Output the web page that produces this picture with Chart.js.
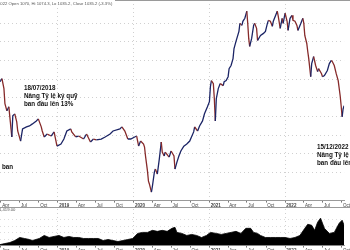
<!DOCTYPE html>
<html>
<head>
<meta charset="utf-8">
<script src="https://cdn.jsdelivr.net/npm/chart.js@4/dist/chart.umd.min.js"></script>
<style>
    html, body { margin: 0; padding: 0; background: #fff; overflow: hidden; }
    body { width: 350px; height: 250px; position: relative; }
    #priceChart { position: absolute; left: 0; top: 0; }
    #volumeChart { position: absolute; left: 0; top: 207px; }
</style>
</head>
<body>
<canvas id="priceChart" width="350" height="208"></canvas>
<canvas id="volumeChart" width="350" height="46"></canvas>
<script>
// thời gian tính theo năm thập phân (2019.5 = giữa năm 2019)
const priceTime = [
    2018.234, 2018.260, 2018.286, 2018.299, 2018.325, 2018.351, 2018.364, 2018.390, 2018.403, 2018.429,
    2018.455, 2018.468, 2018.506, 2018.532, 2018.584, 2018.623, 2018.662, 2018.714, 2018.740, 2018.779,
    2018.792, 2018.818, 2018.857, 2018.909, 2018.948, 2018.987, 2019.039, 2019.078, 2019.117, 2019.169,
    2019.182, 2019.234, 2019.273, 2019.338, 2019.377, 2019.429, 2019.468, 2019.506, 2019.571, 2019.623,
    2019.688, 2019.727, 2019.818, 2019.844, 2019.883, 2019.922, 2019.961, 2020.013, 2020.039, 2020.065,
    2020.091, 2020.130, 2020.143, 2020.156, 2020.182, 2020.195, 2020.208, 2020.234, 2020.247, 2020.273,
    2020.286, 2020.312, 2020.338, 2020.364, 2020.377, 2020.403, 2020.416, 2020.468, 2020.494, 2020.532,
    2020.545, 2020.571, 2020.597, 2020.623, 2020.662, 2020.701, 2020.740, 2020.792, 2020.805, 2020.844,
    2020.870, 2020.909, 2020.935, 2020.974, 2021.000, 2021.013, 2021.026, 2021.052, 2021.065, 2021.078,
    2021.091, 2021.117, 2021.143, 2021.182, 2021.195, 2021.221, 2021.247, 2021.260, 2021.286, 2021.312,
    2021.325, 2021.351, 2021.390, 2021.403, 2021.429, 2021.442, 2021.468, 2021.494, 2021.506, 2021.519,
    2021.532, 2021.558, 2021.584, 2021.597, 2021.623, 2021.636, 2021.675, 2021.714, 2021.740, 2021.766,
    2021.779, 2021.805, 2021.831, 2021.844, 2021.870, 2021.896, 2021.909, 2021.935, 2021.961, 2021.974,
    2022.000, 2022.026, 2022.039, 2022.065, 2022.091, 2022.104, 2022.130, 2022.156, 2022.169, 2022.208,
    2022.234, 2022.247, 2022.260, 2022.286, 2022.299, 2022.312, 2022.338, 2022.351, 2022.377, 2022.403,
    2022.429, 2022.442, 2022.481, 2022.494, 2022.519, 2022.558, 2022.584, 2022.610, 2022.623, 2022.649,
    2022.675, 2022.701, 2022.727, 2022.740, 2022.753, 2022.766, 2022.779
];
const priceClose = [
    1187, 1204, 1150, 1069, 1031, 1053, 999, 891, 1004, 1015,
    972, 923, 869, 934, 945, 950, 961, 977, 988, 945,
    923, 891, 907, 896, 918, 842, 853, 880, 923, 934,
    918, 891, 896, 880, 907, 864, 880, 875, 880, 891,
    907, 923, 934, 945, 923, 880, 880, 891, 896, 842,
    869, 853, 837, 789, 708, 654, 638, 595, 627, 702,
    719, 692, 772, 864, 810, 789, 810, 783, 816, 789,
    719, 756, 789, 816, 842, 853, 869, 918, 945, 923,
    950, 977, 1015, 1053, 1080, 1160, 1193, 1177, 1096, 977,
    1096, 1150, 1177, 1166, 1187, 1193, 1214, 1257, 1274, 1311,
    1365, 1403, 1457, 1500, 1489, 1511, 1527, 1565, 1500, 1419,
    1376, 1419, 1489, 1500, 1473, 1408, 1435, 1446, 1457, 1500,
    1516, 1511, 1484, 1511, 1538, 1565, 1538, 1473, 1527, 1500,
    1554, 1511, 1462, 1527, 1543, 1516, 1511, 1489, 1462, 1500,
    1527, 1500, 1435, 1392, 1349, 1311, 1214, 1284, 1322, 1274,
    1241, 1257, 1230, 1214, 1220, 1247, 1284, 1301, 1295, 1274,
    1230, 1193, 1112, 1058, 999, 1042, 1058
];

const volumeTime = [
    2018.234, 2018.299, 2018.364, 2018.429, 2018.494, 2018.558, 2018.623, 2018.662, 2018.753, 2018.818,
    2018.883, 2018.948, 2019.013, 2019.078, 2019.143, 2019.208, 2019.273, 2019.338, 2019.403, 2019.468,
    2019.532, 2019.597, 2019.662, 2019.727, 2019.792, 2019.857, 2019.922, 2019.987, 2020.052, 2020.117,
    2020.182, 2020.247, 2020.312, 2020.377, 2020.442, 2020.506, 2020.545, 2020.571, 2020.636, 2020.701,
    2020.766, 2020.831, 2020.896, 2020.961, 2021.013, 2021.091, 2021.156, 2021.221, 2021.286, 2021.351,
    2021.416, 2021.481, 2021.545, 2021.584, 2021.636, 2021.675, 2021.740, 2021.805, 2021.870, 2021.935,
    2022.000, 2022.065, 2022.130, 2022.195, 2022.260, 2022.299, 2022.351, 2022.390, 2022.429, 2022.468,
    2022.519, 2022.584, 2022.649, 2022.714, 2022.753, 2022.779
];
const volumeValue = [
    39, 79, 118, 197, 315, 276, 236, 197, 276, 394,
    315, 355, 394, 315, 355, 315, 315, 276, 276, 276,
    276, 197, 236, 197, 158, 197, 236, 276, 473, 512,
    512, 591, 552, 591, 552, 670, 709, 512, 473, 394,
    433, 394, 315, 394, 512, 473, 433, 473, 512, 552,
    473, 670, 670, 512, 473, 394, 315, 315, 315, 315,
    315, 276, 315, 394, 670, 827, 788, 591, 906, 1064,
    670, 473, 512, 867, 985, 788
];

const quarterTicks = [
    2018.247, 2018.496, 2018.748, 2019, 2019.247, 2019.496, 2019.748, 2020, 2020.247, 2020.496,
    2020.748, 2021, 2021.247, 2021.496, 2021.748, 2022, 2022.247, 2022.496, 2022.748
];
const quarterLabels = [
    'Apr', 'Jul', 'Oct', '2019', 'Apr', 'Jul', 'Oct', '2020', 'Apr', 'Jul',
    'Oct', '2021', 'Apr', 'Jul', 'Oct', '2022', 'Apr', 'Jul', 'Oct'
];

const headerText = '2022 Open 1070, Hi 1074.3, Lo 1035.2, Close 1035.2 (-3.3%)';
const volumeMaxLabel = '1,419.00';
const notes = [
    { x: 24, y: 88, lines: ['18/07/2018', 'Nâng Tỷ lệ ký quỹ', 'ban đầu lên 13%'] },
    { x: 317, y: 147, lines: ['15/12/2022', 'Nâng Tỷ lệ ký quỹ', 'ban đầu lên 13%'] },
    { x: 2, y: 167, lines: ['ban'] }
];

const FONT = '"Liberation Sans", Arial, sans-serif';
const isYear = v => Math.abs(v - Math.round(v)) < 1e-6;

// trục thời gian dùng chung cho hai biểu đồ
function timeAxis() {
    return {
        type: 'linear',
        min: 2018.234,
        max: 2022.779,
        afterBuildTicks: scale => {
            scale.ticks = quarterTicks.map(v => ({ value: v }));
        },
        ticks: {
            autoSkip: false,
            maxRotation: 0,
            align: 'start',
            padding: 0,
            color: '#444',
            font: ctx => ({ family: FONT, size: 4.5, weight: ctx.tick && isYear(ctx.tick.value) ? 'bold' : 'normal' }),
            callback: (value, index) => ' ' + quarterLabels[index]
        },
        grid: {
            color: ctx => ctx.tick && isYear(ctx.tick.value) ? '#d0d0d0' : 'rgba(0,0,0,0)',
            tickColor: '#777',
            tickLength: 2,
            lineWidth: 1
        },
        border: { display: true, color: '#9a9a9a', width: 1, dash: [1, 3] }
    };
}

const priceOverlay = {
    id: 'priceOverlay',
    afterDraw(chart) {
        const ctx = chart.ctx;
        const xs = chart.scales.x;
        ctx.save();
        ctx.strokeStyle = '#9a9a9a';
        ctx.lineWidth = 1;
        ctx.beginPath();
        ctx.moveTo(0, 0.5);
        ctx.lineTo(350, 0.5);
        ctx.moveTo(0, xs.bottom - 0.5);
        ctx.lineTo(350, xs.bottom - 0.5);
        ctx.stroke();

        ctx.fillStyle = '#fff';
        ctx.fillRect(0, 0, 115, 6);
        ctx.fillStyle = '#555';
        ctx.font = '4.2px ' + FONT;
        ctx.textBaseline = 'middle';
        ctx.fillText(headerText, -2, 3.5);

        ctx.fillStyle = '#111';
        ctx.font = 'bold 6.3px ' + FONT;
        notes.forEach(n => {
            n.lines.forEach((s, i) => ctx.fillText(s, n.x, n.y + i * 8));
        });
        ctx.restore();
    }
};

const volumeOverlay = {
    id: 'volumeOverlay',
    afterDraw(chart) {
        const ctx = chart.ctx;
        ctx.save();
        ctx.fillStyle = '#555';
        ctx.font = '4.2px ' + FONT;
        ctx.textBaseline = 'middle';
        ctx.fillText(volumeMaxLabel, -1, 2.5);
        ctx.restore();
    }
};

new Chart(document.getElementById('priceChart').getContext('2d'), {
    type: 'line',
    data: {
        datasets: [{
            data: priceTime.map((t, i) => ({ x: t, y: priceClose[i] })),
            borderWidth: 1.3,
            pointRadius: 0,
            tension: 0,
            borderColor: '#1c2566',
            segment: {
                borderColor: ctx => ctx.p1.parsed.y < ctx.p0.parsed.y ? '#862a2a' : '#1c2566'
            }
        }]
    },
    options: {
        responsive: false,
        animation: false,
        events: [],
        layout: { padding: 0, autoPadding: false },
        plugins: { legend: { display: false }, tooltip: { enabled: false } },
        scales: {
            x: timeAxis(),
            y: {
                min: 550,
                max: 1625,
                ticks: { display: false, stepSize: 100 },
                grid: {
                    drawTicks: false,
                    color: ctx => ctx.tick && ctx.tick.value % 100 === 0 ? '#d0d0d0' : 'rgba(0,0,0,0)'
                },
                border: { display: false, dash: [1, 3] }
            }
        }
    },
    plugins: [priceOverlay]
});

new Chart(document.getElementById('volumeChart').getContext('2d'), {
    type: 'line',
    data: {
        datasets: [{
            data: volumeTime.map((t, i) => ({ x: t, y: volumeValue[i] })),
            borderWidth: 0.8,
            borderColor: '#000',
            backgroundColor: '#000',
            fill: 'origin',
            pointRadius: 0,
            tension: 0
        }]
    },
    options: {
        responsive: false,
        animation: false,
        events: [],
        layout: { padding: { top: 2 }, autoPadding: false },
        plugins: { legend: { display: false }, tooltip: { enabled: false } },
        scales: {
            x: timeAxis(),
            y: {
                min: 0,
                max: 1419,
                ticks: { display: false, stepSize: 250 },
                grid: {
                    drawTicks: false,
                    color: ctx => ctx.tick && ctx.tick.value % 250 === 0 && ctx.tick.value > 0 ? '#dddddd' : 'rgba(0,0,0,0)'
                },
                border: { display: false, dash: [1, 3] }
            }
        }
    },
    plugins: [volumeOverlay]
});
</script>
</body>
</html>
